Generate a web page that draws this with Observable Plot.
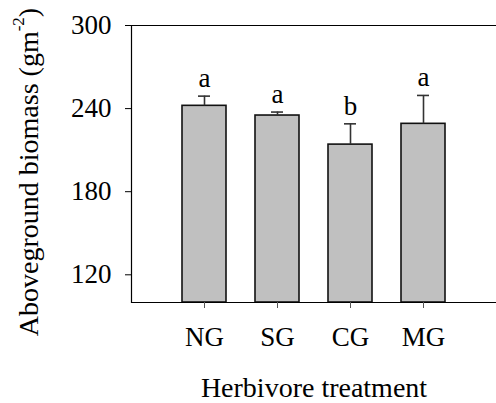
<!DOCTYPE html>
<html>
<head>
<meta charset="utf-8">
<script src="https://cdn.jsdelivr.net/npm/d3@7"></script>
<script src="https://cdn.jsdelivr.net/npm/@observablehq/plot@0.6"></script>
<style>
  html, body { margin: 0; padding: 0; background: #fff; }
  #chart svg { display: block; }
</style>
</head>
<body>
<div id="chart"></div>
<script>
// Aboveground biomass by herbivore treatment (mean + SE, letters = significance groups)
const treatments = ["NG", "SG", "CG", "MG"];
const biomass = [242, 235, 214, 229];
const standardError = [7, 2.5, 15, 20.5];
const groups = ["a", "a", "b", "a"];
const yTicks = [120, 180, 240, 300];
const yFloor = 100;
const yCeil = 300;

const rows = treatments.map((t, i) => ({
  treatment: t,
  value: biomass[i],
  upper: biomass[i] + standardError[i],
  group: groups[i]
}));

const font = "'Liberation Serif', 'Times New Roman', serif";

const chart = Plot.plot({
  width: 496,
  height: 403,
  marginLeft: 131,
  marginRight: 0,
  marginTop: 25,
  marginBottom: 101,
  style: { fontFamily: font, fontSize: "27px", color: "#000", background: "#fff" },
  x: { domain: treatments, paddingInner: 0.4, paddingOuter: 0.7, align: 0.5, label: null },
  y: { domain: [yFloor, yCeil], label: null },
  marks: [
    Plot.barY(rows, {
      x: "treatment", y1: yFloor, y2: "value",
      fill: "#c0c0c0", stroke: "#111", strokeWidth: 1.6
    }),
    Plot.ruleX(rows, { x: "treatment", y1: "value", y2: "upper", stroke: "#333", strokeWidth: 1.6 }),
    Plot.tickY(rows, { x: "treatment", y: "upper", stroke: "#333", strokeWidth: 1.6, insetLeft: 16, insetRight: 16 }),
    Plot.text(rows, {
      x: "treatment", y: "upper", text: "group",
      dy: -9, lineAnchor: "bottom", fontSize: 27, fill: "#000"
    }),
    Plot.ruleY([yCeil], { stroke: "#000", strokeWidth: 1.2 }),
    Plot.ruleY([yFloor], { stroke: "#000", strokeWidth: 1.2 }),
    Plot.axisY({
      ticks: yTicks, tickSize: 6, tickPadding: 14,
      fontSize: 27, label: null, stroke: "#000"
    }),
    Plot.axisX({
      tickSize: 6, tickPadding: 18, fontSize: 27, label: null, stroke: "#555"
    }),
    Plot.frame({ anchor: "left", stroke: "#000", strokeWidth: 1.2 })
  ]
});

// Axis titles (y title carries a superscript unit)
const svg = d3.select(chart);
svg.append("text")
  .attr("x", 314)
  .attr("y", 397)
  .attr("text-anchor", "middle")
  .attr("font-family", font)
  .attr("font-size", 28)
  .attr("fill", "#000")
  .text("Herbivore treatment");

const yTitle = svg.append("text")
  .attr("transform", "translate(38,172) rotate(-90)")
  .attr("text-anchor", "middle")
  .attr("font-family", font)
  .attr("font-size", 28)
  .attr("fill", "#000");
yTitle.append("tspan").text("Aboveground biomass (gm");
yTitle.append("tspan").attr("font-size", 17).attr("dy", -14).text("-2");
yTitle.append("tspan").attr("dy", 14).text(")");

document.getElementById("chart").appendChild(chart);
</script>
</body>
</html>
